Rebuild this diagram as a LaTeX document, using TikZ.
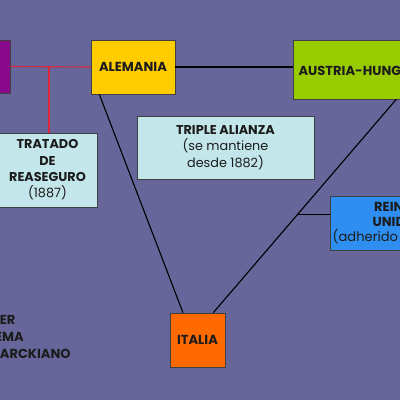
\documentclass[tikz,border=0pt]{standalone}
\usepackage{fontspec}
\setmainfont{Poppins}
\usetikzlibrary{calc}
\definecolor{bgpurple}{HTML}{67669A}
\definecolor{rusiapurple}{HTML}{8A0A8C}
\definecolor{alemaniayellow}{HTML}{FFCC00}
\definecolor{austriagreen}{HTML}{99CC00}
\definecolor{pactcyan}{HTML}{C2E6EA}
\definecolor{ukblue}{HTML}{2E8FF0}
\definecolor{italiaorange}{HTML}{FF6A00}
\definecolor{linkred}{HTML}{D8283C}
\definecolor{inktext}{HTML}{1C1C1C}

\begin{document}
\begin{tikzpicture}[x=0.025cm, y=-0.025cm,
        country/.style={rectangle, draw=black!75, thin, align=center, text=inktext, inner sep=0pt,
            font=\fontsize{9.3}{10.6}\selectfont\bfseries},
        pact/.style={rectangle, draw=black!75, thin, fill=pactcyan, align=center, text=inktext, inner sep=0pt,
            font=\fontsize{9.1}{11.6}\selectfont},
        alliance_link/.style={black, thick},
        treaty_link/.style={linkred, thick}
    ]
    \useasboundingbox (0,0) rectangle (400,400);
    \fill[bgpurple] (0,0) rectangle (400,400);
    \clip (0,0) rectangle (400,400);

    \node[country, fill=rusiapurple, minimum width=1.5cm, minimum height=1.32cm] (rusia) at (-20, 66.5) {RUSIA};
    \node[country, fill=alemaniayellow, minimum width=2.1cm, minimum height=1.35cm] (alemania) at (133, 67) {ALEMANIA};
    \node[country, fill=austriagreen, minimum width=3.4cm, minimum height=1.47cm] (austria) at (361, 69.5) {AUSTRIA-HUNGRÍA};
    \node[country, fill=ukblue, minimum width=3.2cm, minimum height=1.35cm] (reino) at (394, 223)
        {REINO\\UNIDO\\{\mdseries(adherido en 1887)}};
    \node[country, fill=italiaorange, minimum width=1.37cm, minimum height=1.35cm] (italia) at (197.5, 340) {ITALIA};

    \node[pact, minimum width=2.48cm, minimum height=1.85cm] (tratado) at (47.5, 170)
        {\textbf{TRATADO}\\\textbf{DE}\\\textbf{REASEGURO}\\(1887)};
    \node[pact, minimum width=4.42cm, minimum height=1.57cm] (triple) at (225.5, 147.5)
        {\textbf{TRIPLE ALIANZA}\\(se mantiene\\desde 1882)};

    \node[align=left, anchor=east, inner sep=0pt, text=inktext, font=\fontsize{9.3}{11.8}\selectfont\bfseries] (sistema) at (71, 337)
        {PRIMER\\SISTEMA\\BISMARCKIANO};

    % red treaty line
    \coordinate (tee) at (49, 67);
    \draw[treaty_link] (rusia.east) -- (alemania.west);
    \draw[treaty_link] (tee) -- (tee |- tratado.north);

    % triple alliance
    \draw[alliance_link] (alemania.east) -- (alemania.east -| austria.west);
    \draw[alliance_link] (alemania.219) -- (italia.118);
    \draw[alliance_link] (austria.-40) -- (italia.60) coordinate[pos=0.542] (uk_join);
    \draw[alliance_link] (uk_join) -- (uk_join -| reino.west);
\end{tikzpicture}
\end{document}
